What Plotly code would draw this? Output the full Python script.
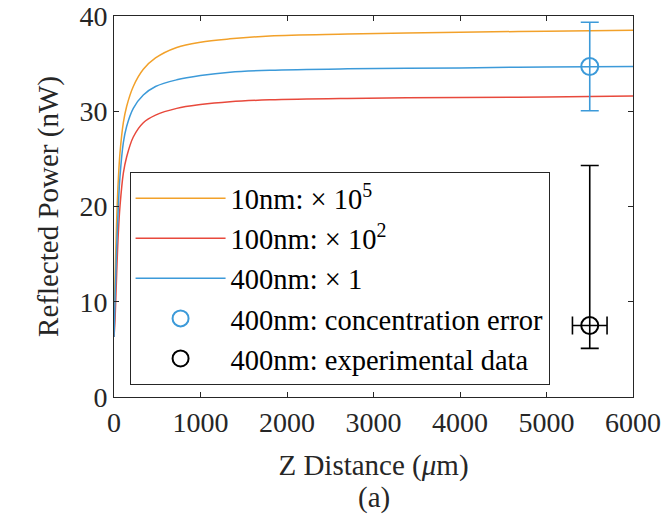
import plotly.graph_objects as go

# Z distance samples (um) for the model curves
z_um = [0, 12, 31, 50, 69, 108, 146, 223, 339, 480, 725, 1000, 1341, 1800, 2700, 4000, 5000, 6000]
# Reflected power (nW)
p_10nm = [6.3, 12.3, 18.6, 22.8, 25.6, 28.8, 30.5, 32.6, 34.4, 35.6, 36.7, 37.25, 37.6, 37.9, 38.1, 38.3, 38.4, 38.5]
p_100nm = [6.3, 8.1, 13.0, 17.2, 20.0, 23.5, 25.2, 27.3, 28.8, 29.6, 30.3, 30.7, 31.0, 31.2, 31.35, 31.45, 31.5, 31.6]
p_400nm = [6.3, 10.2, 15.8, 20.0, 23.1, 26.7, 28.4, 30.3, 31.7, 32.6, 33.3, 33.75, 34.1, 34.3, 34.45, 34.55, 34.65, 34.7]

# Error-bar points
conc_x = [5500]
conc_y = [34.7]
conc_err = [4.65]

exp_x = [5500]
exp_y = [7.5]
exp_err_plus = [16.8]
exp_err_minus = [2.4]
exp_err_x = [200]

names = ["10nm: × 10<sup>5</sup>", "100nm: × 10<sup>2</sup>", "400nm: × 1",
         "400nm: concentration error", "400nm: experimental data"]

c_orange = "#F2A12A"
c_red = "#E8493C"
c_blue = "#3C9AD9"
axis_col = "#262626"
font_fam = "Liberation Serif, Times New Roman, serif"

fig = go.Figure()
fig.add_trace(go.Scatter(x=z_um, y=p_10nm, mode="lines", name=names[0],
                         line=dict(color=c_orange, width=1.5, shape="spline", smoothing=1.0)))
fig.add_trace(go.Scatter(x=z_um, y=p_100nm, mode="lines", name=names[1],
                         line=dict(color=c_red, width=1.5, shape="spline", smoothing=1.0)))
fig.add_trace(go.Scatter(x=z_um, y=p_400nm, mode="lines", name=names[2],
                         line=dict(color=c_blue, width=1.5, shape="spline", smoothing=1.0)))
fig.add_trace(go.Scatter(x=conc_x, y=conc_y, mode="markers", name=names[3],
                         marker=dict(symbol="circle-open", size=17, color=c_blue, line=dict(width=2, color=c_blue)),
                         error_y=dict(type="data", array=conc_err, color=c_blue, thickness=1.6, width=9)))
fig.add_trace(go.Scatter(x=exp_x, y=exp_y, mode="markers", name=names[4],
                         marker=dict(symbol="circle-open", size=17, color="black", line=dict(width=2, color="black")),
                         error_y=dict(type="data", symmetric=False, array=exp_err_plus, arrayminus=exp_err_minus,
                                      color="black", thickness=1.6, width=9),
                         error_x=dict(type="data", array=exp_err_x, color="black", thickness=1.6, width=9)))

axis_common = dict(showline=True, linecolor=axis_col, linewidth=1, mirror="ticks",
                   ticks="inside", ticklen=5, tickwidth=1, tickcolor=axis_col,
                   showgrid=False, zeroline=False, automargin=False,
                   tickfont=dict(family=font_fam, size=28, color=axis_col))

fig.update_layout(
    width=662, height=524,
    margin=dict(l=114, r=29, t=16, b=127),
    paper_bgcolor="white", plot_bgcolor="white",
    font=dict(family=font_fam, color=axis_col),
    xaxis=dict(range=[0, 6000], dtick=1000,
               title=dict(text="Z Distance (<i>μ</i>m)", font=dict(family=font_fam, size=29, color=axis_col), standoff=18),
               **axis_common),
    yaxis=dict(range=[0, 40], dtick=10,
               title=dict(text="Reflected Power (nW)", font=dict(family=font_fam, size=29, color=axis_col), standoff=12),
               **axis_common),
    legend=dict(x=0.03, y=0.59, xanchor="left", yanchor="top",
                bgcolor="white", bordercolor=axis_col, borderwidth=1,
                font=dict(family=font_fam, size=28.5, color="black"),
                itemwidth=90, tracegroupgap=0),
    showlegend=True,
)
fig.add_annotation(text="(a)", x=0.5, y=-0.265, xref="paper", yref="paper", showarrow=False,
                   font=dict(family=font_fam, size=29, color=axis_col), xanchor="center", yanchor="middle")

fig.write_html("out.html")
